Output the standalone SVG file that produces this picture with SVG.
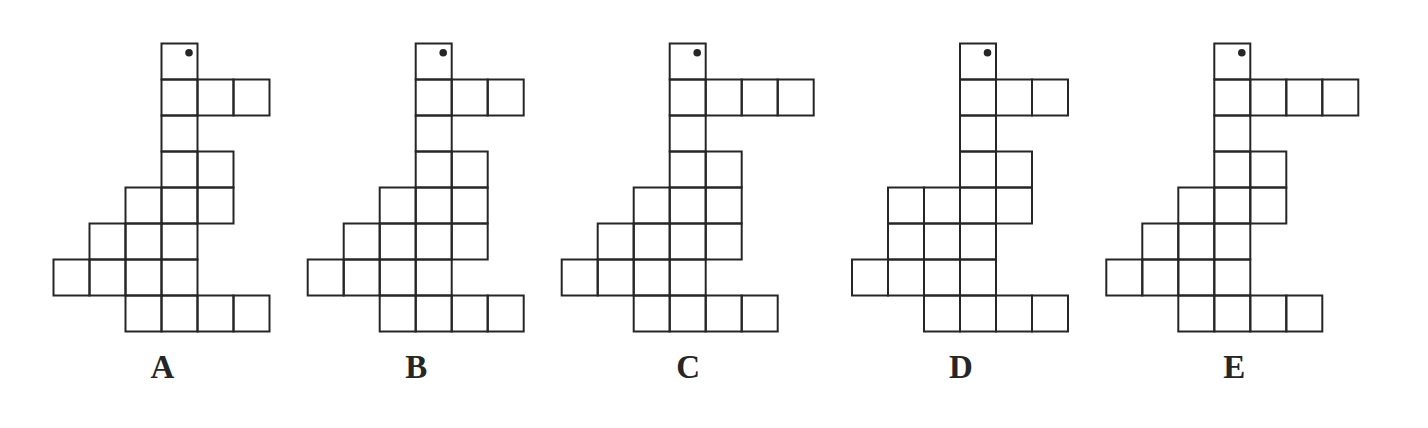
<svg xmlns="http://www.w3.org/2000/svg" xmlns:xlink="http://www.w3.org/1999/xlink" width="1428" height="428" viewBox="0 0 1428 428">
<style>
.c{fill:none;stroke:#262626;stroke-width:2}
.d{fill:#262626}
.l{font-family:"Liberation Serif","Times New Roman",serif;font-weight:bold;font-size:33px;fill:#262626;text-anchor:middle}
</style>
<defs>
<rect id="cell" class="c" width="36" height="36"/>
</defs>
<rect width="1428" height="428" fill="#fff"/>
<g id="figA" transform="translate(53.5,43.5)">
<use href="#cell" x="108" y="0"/>
<use href="#cell" x="108" y="36"/><use href="#cell" x="144" y="36"/><use href="#cell" x="180" y="36"/>
<use href="#cell" x="108" y="72"/>
<use href="#cell" x="108" y="108"/><use href="#cell" x="144" y="108"/>
<use href="#cell" x="72" y="144"/><use href="#cell" x="108" y="144"/><use href="#cell" x="144" y="144"/>
<use href="#cell" x="36" y="180"/><use href="#cell" x="72" y="180"/><use href="#cell" x="108" y="180"/>
<use href="#cell" x="0" y="216"/><use href="#cell" x="36" y="216"/><use href="#cell" x="72" y="216"/><use href="#cell" x="108" y="216"/>
<use href="#cell" x="72" y="252"/><use href="#cell" x="108" y="252"/><use href="#cell" x="144" y="252"/><use href="#cell" x="180" y="252"/>
<circle class="d" cx="135.5" cy="9.2" r="3.8"/>
<text class="l" x="109" y="334">A</text>
</g>
<g id="figB" transform="translate(307.7,43.5)">
<use href="#cell" x="108" y="0"/>
<use href="#cell" x="108" y="36"/><use href="#cell" x="144" y="36"/><use href="#cell" x="180" y="36"/>
<use href="#cell" x="108" y="72"/>
<use href="#cell" x="108" y="108"/><use href="#cell" x="144" y="108"/>
<use href="#cell" x="72" y="144"/><use href="#cell" x="108" y="144"/><use href="#cell" x="144" y="144"/>
<use href="#cell" x="36" y="180"/><use href="#cell" x="72" y="180"/><use href="#cell" x="108" y="180"/><use href="#cell" x="144" y="180"/>
<use href="#cell" x="0" y="216"/><use href="#cell" x="36" y="216"/><use href="#cell" x="72" y="216"/><use href="#cell" x="108" y="216"/>
<use href="#cell" x="72" y="252"/><use href="#cell" x="108" y="252"/><use href="#cell" x="144" y="252"/><use href="#cell" x="180" y="252"/>
<circle class="d" cx="135.5" cy="9.2" r="3.8"/>
<text class="l" x="108.5" y="334">B</text>
</g>
<g id="figC" transform="translate(561.7,43.5)">
<use href="#cell" x="108" y="0"/>
<use href="#cell" x="108" y="36"/><use href="#cell" x="144" y="36"/><use href="#cell" x="180" y="36"/><use href="#cell" x="216" y="36"/>
<use href="#cell" x="108" y="72"/>
<use href="#cell" x="108" y="108"/><use href="#cell" x="144" y="108"/>
<use href="#cell" x="72" y="144"/><use href="#cell" x="108" y="144"/><use href="#cell" x="144" y="144"/>
<use href="#cell" x="36" y="180"/><use href="#cell" x="72" y="180"/><use href="#cell" x="108" y="180"/><use href="#cell" x="144" y="180"/>
<use href="#cell" x="0" y="216"/><use href="#cell" x="36" y="216"/><use href="#cell" x="72" y="216"/><use href="#cell" x="108" y="216"/>
<use href="#cell" x="72" y="252"/><use href="#cell" x="108" y="252"/><use href="#cell" x="144" y="252"/><use href="#cell" x="180" y="252"/>
<circle class="d" cx="135.5" cy="9.2" r="3.8"/>
<text class="l" x="126.5" y="334">C</text>
</g>
<g id="figD" transform="translate(852,43.5)">
<use href="#cell" x="108" y="0"/>
<use href="#cell" x="108" y="36"/><use href="#cell" x="144" y="36"/><use href="#cell" x="180" y="36"/>
<use href="#cell" x="108" y="72"/>
<use href="#cell" x="108" y="108"/><use href="#cell" x="144" y="108"/>
<use href="#cell" x="36" y="144"/><use href="#cell" x="72" y="144"/><use href="#cell" x="108" y="144"/><use href="#cell" x="144" y="144"/>
<use href="#cell" x="36" y="180"/><use href="#cell" x="72" y="180"/><use href="#cell" x="108" y="180"/>
<use href="#cell" x="0" y="216"/><use href="#cell" x="36" y="216"/><use href="#cell" x="72" y="216"/><use href="#cell" x="108" y="216"/>
<use href="#cell" x="72" y="252"/><use href="#cell" x="108" y="252"/><use href="#cell" x="144" y="252"/><use href="#cell" x="180" y="252"/>
<circle class="d" cx="135.5" cy="9.2" r="3.8"/>
<text class="l" x="109" y="334">D</text>
</g>
<g id="figE" transform="translate(1106.3,43.5)">
<use href="#cell" x="108" y="0"/>
<use href="#cell" x="108" y="36"/><use href="#cell" x="144" y="36"/><use href="#cell" x="180" y="36"/><use href="#cell" x="216" y="36"/>
<use href="#cell" x="108" y="72"/>
<use href="#cell" x="108" y="108"/><use href="#cell" x="144" y="108"/>
<use href="#cell" x="72" y="144"/><use href="#cell" x="108" y="144"/><use href="#cell" x="144" y="144"/>
<use href="#cell" x="36" y="180"/><use href="#cell" x="72" y="180"/><use href="#cell" x="108" y="180"/>
<use href="#cell" x="0" y="216"/><use href="#cell" x="36" y="216"/><use href="#cell" x="72" y="216"/><use href="#cell" x="108" y="216"/>
<use href="#cell" x="72" y="252"/><use href="#cell" x="108" y="252"/><use href="#cell" x="144" y="252"/><use href="#cell" x="180" y="252"/>
<circle class="d" cx="135.5" cy="9.2" r="3.8"/>
<text class="l" x="128" y="334">E</text>
</g>
</svg>
